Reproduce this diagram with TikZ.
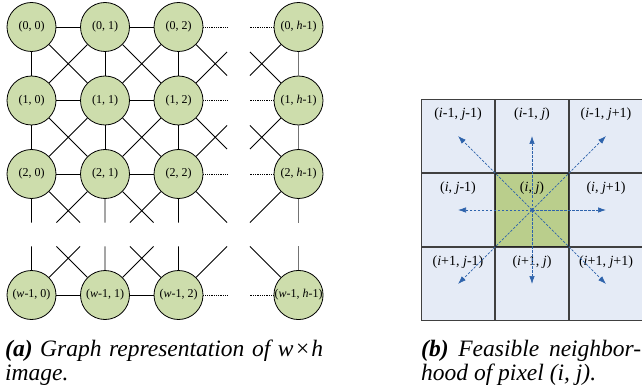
\documentclass[tikz,border=0pt]{standalone}
\usepackage{fontspec}
\setmainfont{Liberation Serif}
\usepackage{tikz}
\usetikzlibrary{arrows.meta,calc}
\definecolor{pixgreen}{RGB}{205,221,172}
\definecolor{cellblue}{RGB}{229,235,246}
\definecolor{centergreen}{RGB}{186,206,140}
\definecolor{nbblue}{RGB}{46,99,172}

\begin{document}
\begin{tikzpicture}[
    x=1pt,y=-1pt,
    >={Latex[length=8pt,width=5.5pt]},
    pixel/.style={circle,draw=black,line width=0.8pt,fill=pixgreen,minimum size=49pt,
      inner sep=0pt,font=\fontsize{12}{14}\selectfont},
    edge/.style={black,line width=0.8pt},
    gapedge/.style={black,densely dotted,line width=0.8pt},
    lastedge/.style={black!55,line width=1pt},
    cell/.style={draw=black!75,line width=1.3pt,fill=cellblue,minimum size=72.5pt,inner sep=0pt},
    celltext/.style={font=\fontsize{14}{16}\selectfont,inner sep=0pt,anchor=north},
    nbarrow/.style={->,nbblue,line width=0.7pt,dash pattern=on 2.5pt off 1.5pt},
    caption/.style={font=\fontsize{23.5}{24}\selectfont\itshape,
      align=justify,inner sep=0pt,anchor=north west},
  ]
    \useasboundingbox (0,0) rectangle (642,390);

    % (a) pixel graph
    \node[pixel] (p00) at (31.5,27) {(0, 0)};
    \node[pixel] (p01) at (105,27) {(0, 1)};
    \node[pixel] (p02) at (178.5,27) {(0, 2)};
    \node[pixel] (p0h) at (298.5,27) {(0, \textit{h}-1)};
    \node[pixel] (p10) at (31.5,100.5) {(1, 0)};
    \node[pixel] (p11) at (105,100.5) {(1, 1)};
    \node[pixel] (p12) at (178.5,100.5) {(1, 2)};
    \node[pixel] (p1h) at (298.5,100.5) {(1, \textit{h}-1)};
    \node[pixel] (p20) at (31.5,174) {(2, 0)};
    \node[pixel] (p21) at (105,174) {(2, 1)};
    \node[pixel] (p22) at (178.5,174) {(2, 2)};
    \node[pixel] (p2h) at (298.5,174) {(2, \textit{h}-1)};
    \node[pixel] (pw0) at (31.5,295) {(\textit{w}-1, 0)};
    \node[pixel] (pw1) at (105,295) {(\textit{w}-1, 1)};
    \node[pixel] (pw2) at (178.5,295) {(\textit{w}-1, 2)};
    \node[pixel] (pwh) at (298.5,295) {(\textit{w}-1, \textit{h}-1)};

    % missing neighbours behind the gaps
    \coordinate (v03) at (252,27); \coordinate (v13) at (252,100.5);
    \coordinate (v23) at (252,174); \coordinate (vw3) at (252,295);
    \coordinate (v0g) at (225,27); \coordinate (v1g) at (225,100.5);
    \coordinate (v2g) at (225,174); \coordinate (vwg) at (225,295);
    \coordinate (v30) at (31.5,247.5); \coordinate (v31) at (105,247.5);
    \coordinate (v32) at (178.5,247.5); \coordinate (v33) at (252,247.5);
    \coordinate (v3g) at (225,247.5); \coordinate (v3h) at (298.5,247.5);
    \coordinate (vf0) at (31.5,221.5); \coordinate (vf1) at (105,221.5);
    \coordinate (vf2) at (178.5,221.5); \coordinate (vf3) at (252,221.5);
    \coordinate (vfg) at (225,221.5); \coordinate (vfh) at (298.5,221.5);

    \draw[edge] (p00) -- (p01) (p01) -- (p02) (p10) -- (p11) (p11) -- (p12)
      (p20) -- (p21) (p21) -- (p22) (pw0) -- (pw1) (pw1) -- (pw2);
    \draw[edge] (p00) -- (p10) (p10) -- (p20) (p01) -- (p11) (p11) -- (p21)
      (p02) -- (p12) (p12) -- (p22);
    \draw[lastedge] (p0h) -- (p1h) (p1h) -- (p2h);
    \draw[edge] (p00) -- (p11) (p01) -- (p10) (p01) -- (p12) (p02) -- (p11)
      (p10) -- (p21) (p11) -- (p20) (p11) -- (p22) (p12) -- (p21);

    % stubs across the gaps
    \draw[gapedge] (p02) -- ($(p02)!.66!(v03)$) (p12) -- ($(p12)!.66!(v13)$)
      (p22) -- ($(p22)!.66!(v23)$) (pw2) -- ($(pw2)!.66!(vw3)$)
      (p0h) -- ($(p0h)!.66!(v0g)$) (p1h) -- ($(p1h)!.66!(v1g)$)
      (p2h) -- ($(p2h)!.66!(v2g)$) (pwh) -- ($(pwh)!.66!(vwg)$);
    \draw[edge] (p02) -- ($(p02)!.66!(v13)$) (p12) -- ($(p12)!.66!(v03)$)
      (p12) -- ($(p12)!.66!(v23)$) (p22) -- ($(p22)!.66!(v13)$)
      (p0h) -- ($(p0h)!.66!(v1g)$) (p1h) -- ($(p1h)!.66!(v0g)$)
      (p1h) -- ($(p1h)!.66!(v2g)$) (p2h) -- ($(p2h)!.66!(v1g)$);
    \draw[edge] (p20) -- ($(p20)!.66!(v30)$) (p21) -- ($(p21)!.66!(v31)$)
      (p22) -- ($(p22)!.66!(v32)$) (p20) -- ($(p20)!.66!(v31)$)
      (p21) -- ($(p21)!.66!(v30)$) (p21) -- ($(p21)!.66!(v32)$)
      (p22) -- ($(p22)!.66!(v31)$) (p22) -- ($(p22)!.66!(v33)$)
      (p2h) -- ($(p2h)!.66!(v3g)$);
    \draw[edge] (pw0) -- ($(pw0)!.66!(vf0)$) (pw1) -- ($(pw1)!.66!(vf1)$)
      (pw2) -- ($(pw2)!.66!(vf2)$) (pw0) -- ($(pw0)!.66!(vf1)$)
      (pw1) -- ($(pw1)!.66!(vf0)$) (pw1) -- ($(pw1)!.66!(vf2)$)
      (pw2) -- ($(pw2)!.66!(vf1)$) (pw2) -- ($(pw2)!.66!(vf3)$)
      (pwh) -- ($(pwh)!.66!(vfg)$);
    \draw[lastedge] (p2h) -- ($(p2h)!.66!(v3h)$) (pwh) -- ($(pwh)!.66!(vfh)$);

    % (b) neighbourhood
    \node[cell] (nw) at (458,136) {};
    \node[cell] (nn) at (532,136) {};
    \node[cell] (ne) at (606,136) {};
    \node[cell] (ww) at (458,210) {};
    \node[cell,fill=centergreen,draw=black!85] (ij) at (532,210) {};
    \node[cell] (ee) at (606,210) {};
    \node[cell] (sw) at (458,284) {};
    \node[cell] (ss) at (532,284) {};
    \node[cell] (se) at (606,284) {};

    \node[celltext] (tnw) at ($(nw.north)+(0,8)$) {(\textit{i}-1, \textit{j}-1)};
    \node[celltext] (tnn) at ($(nn.north)+(0,8)$) {(\textit{i}-1, \textit{j})};
    \node[celltext] (tne) at ($(ne.north)+(0,8)$) {(\textit{i}-1, \textit{j}+1)};
    \node[celltext] (tww) at ($(ww.north)+(0,8)$) {(\textit{i}, \textit{j}-1)};
    \node[celltext] (tij) at ($(ij.north)+(0,8)$) {(\textit{i}, \textit{j})};
    \node[celltext] (tee) at ($(ee.north)+(0,8)$) {(\textit{i}, \textit{j}+1)};
    \node[celltext] (tsw) at ($(sw.north)+(0,8)$) {(\textit{i}+1, \textit{j}-1)};
    \node[celltext] (tss) at ($(ss.north)+(0,8)$) {(\textit{i}+1, \textit{j})};
    \node[celltext] (tse) at ($(se.north)+(0,8)$) {(\textit{i}+1, \textit{j}+1)};

    \draw[nbarrow] (ij.center) -- (nw.center);
    \draw[nbarrow] (ij.center) -- (nn.center);
    \draw[nbarrow] (ij.center) -- (ne.center);
    \draw[nbarrow] (ij.center) -- (ww.center);
    \draw[nbarrow] (ij.center) -- (ee.center);
    \draw[nbarrow] (ij.center) -- (sw.center);
    \draw[nbarrow] (ij.center) -- (ss.center);
    \draw[nbarrow] (ij.center) -- (se.center);
    \fill[nbblue] (ij.center) circle (1.8);

    % captions
    \node[caption,text width=318pt] (capa) at (5,339.5)
      {\hyphenpenalty=10000\relax
       \textbf{(a)} Graph representation of w\kern1pt×\kern1pt h\linebreak image.};
    \node[caption,text width=220pt] (capb) at (421,339.5)
      {\hyphenpenalty=10000\relax
       \textbf{(b)} Feasible neighbor-\linebreak hood of pixel (i, j).};
  \end{tikzpicture}
\end{document}
